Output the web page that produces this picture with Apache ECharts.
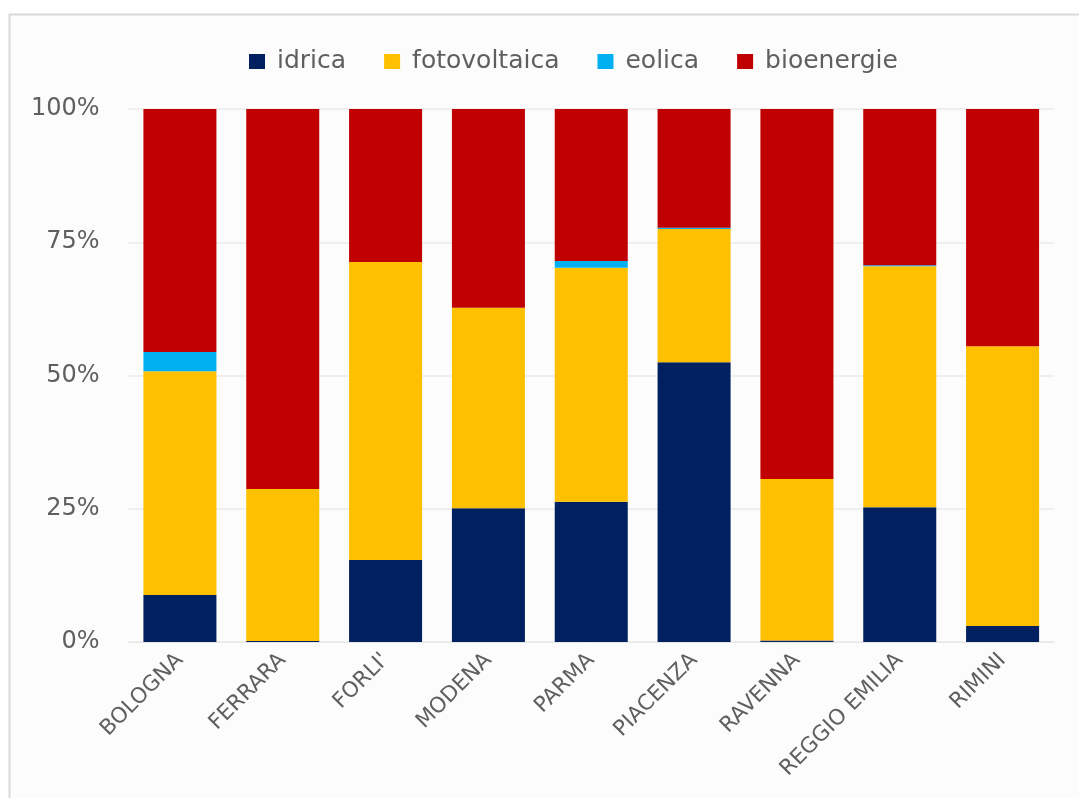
<!DOCTYPE html>
<html><head><meta charset="utf-8">
<script src="https://cdn.jsdelivr.net/npm/echarts@6/dist/echarts.min.js"></script>
<style>html,body{margin:0;padding:0;background:#fff}#c{width:1079px;height:798px}</style>
</head><body><div id="c"></div>
<script>
const categories = ['BOLOGNA','FERRARA',"FORLI'",'MODENA','PARMA','PIACENZA','RAVENNA','REGGIO EMILIA','RIMINI'];
const idrica      = [8.8, 0.2, 15.4, 25.1, 26.3, 52.5, 0.3, 25.3, 3.0];
const fotovoltaica= [42.0, 28.5, 55.9, 37.6, 43.9, 25.0, 30.3, 45.2, 52.5];
const eolica      = [3.6, 0.0, 0.0, 0.0, 1.3, 0.2, 0.0, 0.2, 0.0];
const bioenergie  = [45.6, 71.3, 28.7, 37.3, 28.5, 22.3, 69.4, 29.3, 44.5];
const yTicks = [0, 25, 50, 75, 100];

const font = 'DejaVu Sans';
const txt = '#5f5f5f';
const chart = echarts.init(document.getElementById('c'));
function s(name, data, color){
  return {name, type:'bar', stack:'t', data, barCategoryGap:'29%',
    itemStyle:{color}, emphasis:{disabled:true}};
}
chart.setOption({
  animation:false,
  backgroundColor:'#ffffff',
  graphic:[{type:'rect', shape:{x:9.5,y:14.5,width:1100,height:800},
    style:{fill:'#fcfcfc', stroke:'#d9d9d9', lineWidth:2}, z:-10, silent:true}],
  legend:{top:44, left:244, itemWidth:16, itemHeight:15, itemGap:38,
    textStyle:{fontFamily:font, fontSize:25, color:txt, padding:[0,0,0,7]},
    icon:'rect', data:['idrica','fotovoltaica','eolica','bioenergie']},
  grid:{left:128.5, right:25, top:109, bottom:156, containLabel:false},
  xAxis:{type:'category', data:categories,
    axisLine:{show:true, lineStyle:{color:'#e6e6e6', width:1}}, axisTick:{show:false},
    axisLabel:{rotate:45, fontFamily:font, fontSize:21.5, color:txt, margin:15, interval:0}},
  yAxis:{type:'value', min:yTicks[0], max:yTicks[yTicks.length-1], interval:25,
    axisLine:{show:false}, axisTick:{show:false},
    splitLine:{lineStyle:{color:'#ebebeb', width:1.5}},
    axisLabel:{formatter:'{value}%', fontFamily:font, fontSize:24, color:txt, margin:29}},
  series:[s('idrica',idrica,'#002060'), s('fotovoltaica',fotovoltaica,'#FFC000'),
          s('eolica',eolica,'#00B0F0'), s('bioenergie',bioenergie,'#C00000')]
});
</script></body></html>
